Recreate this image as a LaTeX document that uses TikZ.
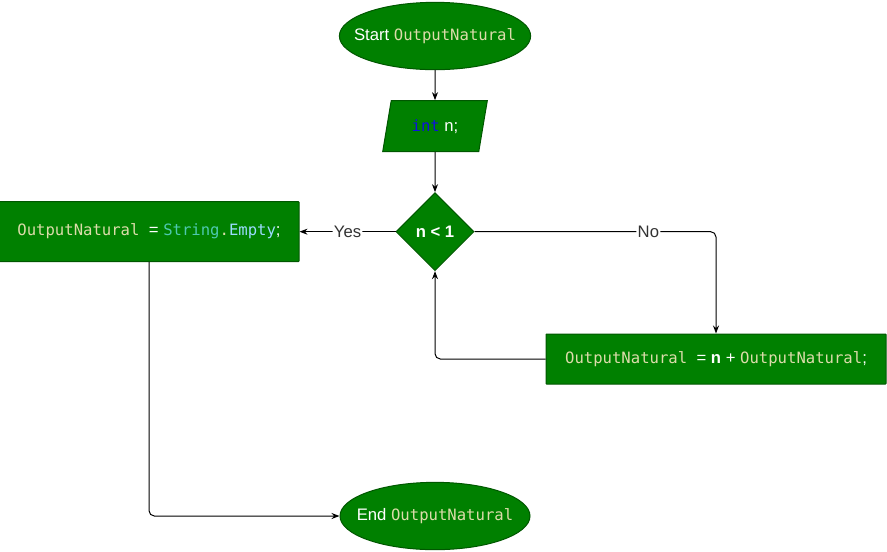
\documentclass[tikz,border=0pt]{standalone}
\usepackage{fontspec}
\setmainfont{Liberation Sans}
\newfontfamily\codefont{DejaVu Sans Mono}
\usetikzlibrary{shapes.geometric,arrows.meta,positioning}

\definecolor{boxfill}{HTML}{008000}
\definecolor{boxline}{HTML}{005700}
\definecolor{idcol}{HTML}{DCDCAA}
\definecolor{kwcol}{HTML}{1010E0}
\definecolor{typecol}{HTML}{4EC9B0}
\definecolor{membcol}{HTML}{9CDCFE}
\definecolor{labcol}{HTML}{333333}

\newcommand\cid[1]{{\codefont\fontsize{11.7}{13}\selectfont\color{idcol}#1}}
\newcommand\ccol[2]{{\codefont\fontsize{11.7}{13}\selectfont\color{#1}#2}}

\tikzset{
  base/.style={draw=boxline,fill=boxfill,line width=0.75pt,text=white,
    font=\fontsize{12.5}{14}\selectfont,inner sep=0pt},
  term/.style={base,ellipse,inner xsep=-10pt,minimum width=142.5pt,minimum height=50.5pt},
  io/.style={base,trapezium,trapezium left angle=72,trapezium right angle=108,
    trapezium stretches=true,minimum width=78.75pt,minimum height=38.25pt},
  cond/.style={base,diamond,minimum width=58.5pt,minimum height=58.5pt,aspect=1},
  proc/.style={base,rectangle,rounded corners=0.5pt},
  flow/.style={line width=0.75pt,rounded corners=4pt,-{Stealth[length=6pt,width=4.5pt]}},
  lab/.style={fill=white,text=labcol,inner sep=1pt,font=\fontsize{12.5}{14}\selectfont}
}

\begin{document}
\begin{tikzpicture}[x=0.75pt,y=-0.75pt]
\useasboundingbox (0,0) rectangle (887,551);

% main column
\node[term] (start) at (435,36) {Start \cid{OutputNatural}};
\node[io,below=22.5pt of start] (decl) {\ccol{kwcol}{int} n;};
\node[cond,below=30pt of decl] (test) {\textbf{n < 1}};
\node[term] (end) at (435,516) {End \cid{OutputNatural}};

% branches
\node[proc,left=72pt of test,minimum width=225pt,minimum height=45pt] (empty)
  {\cid{OutputNatural }= \ccol{typecol}{String}\cid{.}\ccol{membcol}{Empty};};
\node[proc,minimum width=255pt,minimum height=37.5pt] (add) at (716,359)
  {\cid{OutputNatural }= \textbf{n} + \cid{OutputNatural};};

\draw[flow] (start) -- (decl);
\draw[flow] (decl) -- (test);
\draw[flow] (test.west) -- node[lab] {Yes} (empty.east);
\draw[flow] (test.east) -| node[lab,pos=0.36] {No} (add.north);
\draw[flow] (add.west) -| (test.south);
\draw[flow] (empty.south) |- (end.west);

\end{tikzpicture}
\end{document}
